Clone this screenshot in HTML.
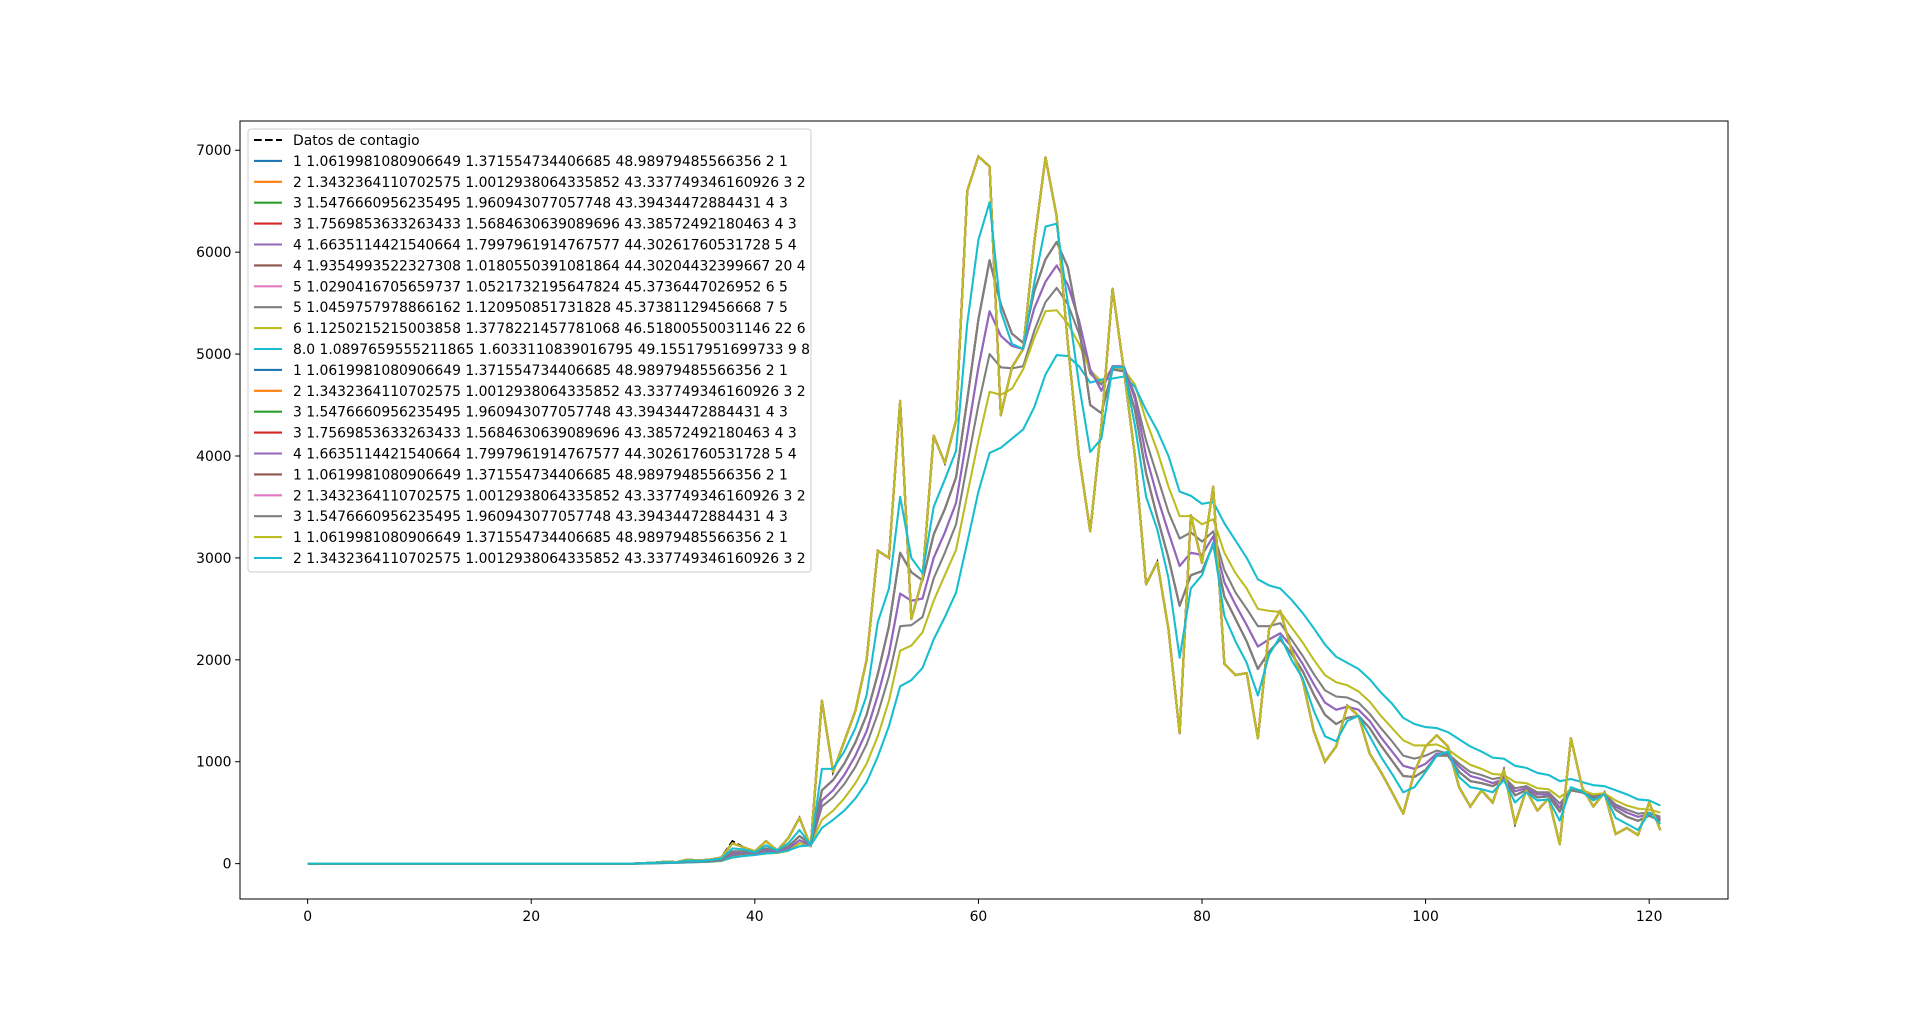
<!DOCTYPE html>
<html><head><meta charset="utf-8"><style>
html,body{margin:0;padding:0;background:#fff;}
svg{display:block;font-family:"DejaVu Sans","Liberation Sans",sans-serif;}
</style></head><body>
<svg id="chart" width="1920" height="1010" viewBox="0 0 1920 1010" xmlns="http://www.w3.org/2000/svg">
<rect x="0" y="0" width="1920" height="1010" fill="#fff"/>
<defs><clipPath id="clip"><rect x="240" y="121" width="1488" height="778"/></clipPath></defs>
<g id="plot" clip-path="url(#clip)"></g>
<rect x="240" y="121" width="1488" height="778" fill="none" stroke="#000" stroke-width="1"/>
<g id="xticks"></g>
<g id="yticks"></g>
<g id="legend"></g>
</svg>
<script>
const xTicks=[0,20,40,60,80,100,120];
const yTicks=[0,1000,2000,3000,4000,5000,6000,7000];
const Z30=[0,0,0,0,0,0,0,0,0,0,0,0,0,0,0,0,0,0,0,0,0,0,0,0,0,0,0,0,0,0];
const rawData=Z30.concat([5,10,20,15,40,30,40,60,220,160,120,220,130,250,450,170,1600,900,1200,1500,2000,3070,3000,4540,2400,2800,4200,3930,4350,6600,6940,6840,4400,4870,5050,6100,6930,6350,5100,4000,3260,4300,5640,4850,4000,2740,2960,2300,1280,3420,2950,3700,1960,1850,1870,1230,2300,2480,2100,1800,1300,1000,1150,1550,1450,1080,900,700,490,900,1150,1260,1150,750,560,720,600,920,390,720,520,640,190,1230,750,560,700,290,350,280,600,330]);
const fitRaw=Z30.concat([5,10,20,15,40,30,40,60,200,160,120,220,130,250,450,170,1600,900,1200,1500,2000,3070,3000,4540,2400,2800,4200,3930,4350,6600,6940,6840,4400,4870,5050,6100,6930,6350,5100,4000,3260,4300,5640,4850,4000,2740,2960,2300,1280,3420,2950,3700,1960,1850,1870,1230,2300,2480,2100,1800,1300,1000,1150,1550,1450,1080,900,700,490,900,1150,1260,1150,750,560,720,600,920,390,720,520,640,190,1230,750,560,700,290,350,280,600,330]);
const fitB=Z30.concat([3,8,15,12,30,25,35,50,150,140,110,180,130,200,330,180,930,930,1100,1330,1650,2370,2700,3600,3000,2850,3500,3770,4050,5300,6120,6490,5420,5100,5050,5700,6250,6280,5500,4700,4040,4170,4870,4870,4300,3600,3280,2800,2020,2700,2830,3150,2430,2180,1970,1650,2050,2230,2000,1820,1500,1250,1200,1400,1450,1250,1050,880,700,750,900,1060,1100,850,750,730,700,820,600,700,620,630,420,750,710,620,680,450,390,330,500,390]);
const fitC=Z30.concat([3,6,12,12,25,22,30,40,120,120,110,150,130,170,270,190,720,820,980,1190,1460,1860,2330,3050,2860,2780,3230,3480,3790,4550,5340,5920,5490,5200,5110,5620,5930,6100,5850,5270,4500,4420,4850,4830,4450,3830,3400,3000,2530,2830,2870,3130,2620,2400,2180,1910,2080,2200,2060,1890,1660,1460,1370,1430,1450,1330,1160,1010,860,850,920,1060,1060,900,810,790,760,820,670,720,650,660,510,720,700,640,680,530,460,420,470,420]);
const fitD=Z30.concat([2,5,10,10,20,20,25,35,100,110,100,130,120,150,230,180,620,720,870,1060,1300,1650,2060,2650,2580,2600,3000,3250,3540,4200,4870,5420,5180,5080,5050,5450,5710,5870,5680,5330,4850,4640,4880,4880,4560,4000,3600,3250,2920,3050,3030,3210,2760,2540,2340,2130,2200,2260,2130,1960,1760,1580,1510,1540,1510,1400,1240,1100,960,930,980,1080,1070,950,860,830,790,830,710,740,680,680,550,720,700,650,680,560,500,460,480,440]);
const fitE=Z30.concat([2,4,8,9,16,18,22,30,80,95,95,115,115,135,200,180,560,650,780,950,1170,1470,1840,2330,2340,2420,2800,3050,3330,3920,4500,5000,4870,4860,4880,5230,5510,5650,5490,5200,4810,4700,4870,4880,4600,4150,3800,3450,3190,3250,3160,3260,2880,2660,2500,2330,2330,2360,2200,2040,1860,1700,1640,1630,1580,1470,1330,1200,1060,1030,1060,1110,1080,980,900,870,830,850,740,760,700,700,590,720,700,660,680,580,530,490,500,460]);
const fitF=Z30.concat([1,3,6,8,12,15,18,25,60,75,85,100,105,125,200,190,430,520,640,790,980,1250,1600,2090,2140,2270,2580,2830,3080,3620,4150,4630,4600,4660,4850,5160,5420,5430,5300,5100,4840,4730,4850,4850,4700,4350,4050,3700,3410,3410,3330,3380,3050,2850,2700,2500,2480,2470,2320,2170,2000,1850,1780,1750,1690,1590,1450,1330,1210,1160,1160,1170,1120,1040,970,930,880,870,800,790,740,730,650,730,720,680,690,620,570,540,530,500]);
const fitG=Z30.concat([0,2,5,8,12,15,20,30,60,75,85,100,110,130,170,180,350,430,520,640,800,1050,1350,1740,1800,1920,2200,2420,2660,3150,3650,4030,4080,4170,4260,4480,4800,4990,4980,4880,4720,4750,4760,4780,4680,4450,4250,4000,3650,3610,3530,3550,3340,3170,3000,2790,2730,2700,2590,2460,2310,2150,2030,1970,1910,1810,1680,1570,1430,1370,1340,1330,1290,1220,1150,1100,1040,1030,960,940,890,870,810,830,800,770,760,720,680,630,620,570]);
const seriesLabels=["1 1.0619981080906649 1.371554734406685 48.98979485566356 2 1","2 1.3432364110702575 1.0012938064335852 43.337749346160926 3 2","3 1.5476660956235495 1.960943077057748 43.39434472884431 4 3","3 1.7569853633263433 1.5684630639089696 43.38572492180463 4 3","4 1.6635114421540664 1.7997961914767577 44.30261760531728 5 4","4 1.9354993522327308 1.0180550391081864 44.30204432399667 20 4","5 1.0290416705659737 1.0521732195647824 45.3736447026952 6 5","5 1.0459757978866162 1.120950851731828 45.37381129456668 7 5","6 1.1250215215003858 1.3778221457781068 46.51800550031146 22 6","8.0 1.0897659555211865 1.6033110839016795 49.15517951699733 9 8","1 1.0619981080906649 1.371554734406685 48.98979485566356 2 1","2 1.3432364110702575 1.0012938064335852 43.337749346160926 3 2","3 1.5476660956235495 1.960943077057748 43.39434472884431 4 3","3 1.7569853633263433 1.5684630639089696 43.38572492180463 4 3","4 1.6635114421540664 1.7997961914767577 44.30261760531728 5 4","1 1.0619981080906649 1.371554734406685 48.98979485566356 2 1","2 1.3432364110702575 1.0012938064335852 43.337749346160926 3 2","3 1.5476660956235495 1.960943077057748 43.39434472884431 4 3","1 1.0619981080906649 1.371554734406685 48.98979485566356 2 1","2 1.3432364110702575 1.0012938064335852 43.337749346160926 3 2"];
const seriesValues=[fitRaw,fitRaw,fitRaw,fitRaw,fitD,fitC,fitRaw,fitE,fitF,fitG,fitRaw,fitRaw,fitRaw,fitRaw,fitD,fitC,fitRaw,fitC,fitRaw,fitB];
const colors=["#1f77b4","#ff7f0e","#2ca02c","#d62728","#9467bd","#8c564b","#e377c2","#7f7f7f","#bcbd22","#17becf"];

const NS="http://www.w3.org/2000/svg";
const L=240,R=1728,T=121,B=899;
const n=rawData.length;
const xmin=-0.05*(n-1), xmax=(n-1)*1.05;
let vmax=0; [rawData].concat(seriesValues).forEach(a=>a.forEach(v=>{if(v>vmax)vmax=v;}));
const ymin=-0.05*vmax, ymax=vmax*1.05;
function xs(i){return L+(i-xmin)/(xmax-xmin)*(R-L);}
function ys(v){return B-(v-ymin)/(ymax-ymin)*(B-T);}
function mk(tag,attrs,parent){const e=document.createElementNS(NS,tag);for(const k in attrs)e.setAttribute(k,attrs[k]);parent.appendChild(e);return e;}
function pts(a){return a.map((v,i)=>xs(i).toFixed(2)+","+ys(v).toFixed(2)).join(" ");}

const plot=document.getElementById('plot');
const dl=mk('polyline',{points:pts(rawData),fill:'none',stroke:'#000','stroke-width':2.08,'stroke-dasharray':'7.7,3.3'},plot);


seriesValues.forEach((a,k)=>{
  const p=mk('polyline',{points:pts(a),fill:'none',stroke:colors[k%10],'stroke-width':2.08,'stroke-linejoin':'round'},plot);
  
  
});

const xg=document.getElementById('xticks');
xTicks.forEach(t=>{
  const x=xs(t);
  const l=mk('line',{x1:x,x2:x,y1:B,y2:B+4.9,stroke:'#000','stroke-width':1},xg);
  
  
  const tx=mk('text',{x:x,y:B+22,'text-anchor':'middle','font-size':'13.9px',fill:'#000'},xg);
  tx.textContent=t;
  
  
});
const yg=document.getElementById('yticks');
yTicks.forEach(t=>{
  const y=ys(t);
  const l=mk('line',{x1:L-4.9,x2:L,y1:y,y2:y,stroke:'#000','stroke-width':1},yg);
  
  
  const tx=mk('text',{x:L-8.5,y:y+5,'text-anchor':'end','font-size':'13.9px',fill:'#000'},yg);
  tx.textContent=t;
  
  
});

const lg=document.getElementById('legend');
const box=mk('rect',{x:248,y:129,width:563,height:443,rx:3,fill:'#fff','fill-opacity':0.8,stroke:'#ccc','stroke-width':1},lg);


const rowH=20.9, row0=140;
const allLabels=["Datos de contagio"].concat(seriesLabels);
allLabels.forEach((s,k)=>{
  const y=row0+k*rowH;
  const g=mk('g',{},lg);
  
  
  const attrs={x1:254,x2:282,y1:y,y2:y,stroke:k===0?'#000':colors[(k-1)%10],'stroke-width':2.08};
  if(k===0)attrs['stroke-dasharray']='7.7,3.3';
  mk('line',attrs,g);
  const tx=mk('text',{x:293,y:y+5,'font-size':'13.9px',fill:'#000'},g);
  tx.textContent=s;
});
</script>
</body></html>
